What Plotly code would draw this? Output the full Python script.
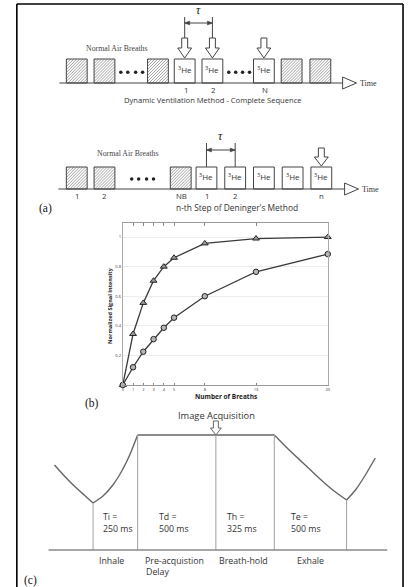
import numpy as np
import plotly.graph_objects as go

# ---------------- data: panel (b) ----------------
breaths = [0, 1, 2, 3, 4, 5, 8, 13, 20]
signal_triangle = [0, 0.345, 0.555, 0.705, 0.80, 0.86, 0.957, 0.99, 1.0]
signal_circle = [0, 0.12, 0.225, 0.31, 0.387, 0.455, 0.60, 0.765, 0.885]
y_tick_vals = [0.2, 0.4, 0.6, 0.8, 1.0]
y_tick_text = ["0.2", "0.4", "0.6", "0.8", "1"]
x_tick_text = ["0", "1", "2", "3", "4", "5", "8", "13", "20"]

# ---------------- schematic (a) ----------------
row1_box_left = [66, 94, 148, 175, 203, 255, 283, 312]
row1_box_kind = ["air", "air", "air", "he", "he", "he", "air", "air"]
row1_dots = [121, 128, 136, 143, 230, 237, 244, 251]
row1_arrow_boxes = [3, 4, 5]
row1_labels = ["1", "2", "N"]

row2_box_left = [66, 94, 171, 197, 226, 255, 284, 313]
row2_box_kind = ["air", "air", "air", "he", "he", "he", "he", "he"]
row2_dots = [132, 139, 147, 154]
row2_label_boxes = [0, 1, 2, 3, 4, 7]
row2_labels = ["1", "2", "NB", "1", "2", "n"]
row2_arrow_boxes = [7]

# ---------------- schematic (c) ----------------
curve_segments_x = [[54, 64, 74, 84, 93],
                    [93, 103, 113, 122, 130, 138],
                    [276, 290, 305, 320, 335, 349],
                    [349, 358, 368, 378]]
curve_segments_y = [[465, 476, 486, 495, 503],
                    [503, 496, 485, 471, 455, 435],
                    [435, 449, 463, 477, 490, 500],
                    [500, 490, 475, 458]]
phase_x = [93, 138, 217, 276, 349]
phase_top = [503, 435, 435, 435, 500]
phase_names = ["Ti =", "Td =", "Th =", "Te ="]
phase_ms = ["250 ms", "500 ms", "325 ms", "500 ms"]
phase_text_x = [101, 158, 226, 291]

W, H = 408, 587
LINE = "#444444"
SANS = "Open Sans, Noto Sans, sans-serif"
SERIF = "Liberation Serif, Times New Roman, serif"

fig = go.Figure()
shapes = []
annotations = []


def hatch(x0, y0, x1, y1, step=3.0):
    xs, ys = [], []
    c = x0 + y0 + step / 2
    while c < x1 + y1:
        xa = max(x0, c - y1)
        xb = min(x1, c - y0)
        if xb > xa:
            xs += [xa, xb, None]
            ys += [c - xa, c - xb, None]
        c += step
    return xs, ys


def hollow_arrow(cx, top, hb, tip, sw, hw, color=LINE):
    path = (f"M{cx-sw},{top} L{cx+sw},{top} L{cx+sw},{hb} L{cx+hw},{hb} "
            f"L{cx},{tip} L{cx-hw},{hb} L{cx-sw},{hb} Z")
    return dict(type="path", path=path, xref="x", yref="y",
                line=dict(color=color, width=1), fillcolor="white")


def txt(x, y, s, size, font=SANS, anchor="center", color="#333333", **kw):
    annotations.append(dict(x=x, y=y, xref="x", yref="y", text=s, showarrow=False,
                            xanchor=anchor, yanchor="middle",
                            font=dict(size=size, family=font, color=color), **kw))


def draw_row(lefts, kinds, top, axis_y, dots, line_x0, line_x1, tri_x1):
    hx, hy = [], []
    for left, kind in zip(lefts, kinds):
        w = 21
        shapes.append(dict(type="rect", xref="x", yref="y", x0=left, x1=left + w,
                           y0=top, y1=axis_y, line=dict(color=LINE, width=1),
                           fillcolor="rgba(0,0,0,0)" if kind == "air" else "white"))
        if kind == "air":
            a, b = hatch(left, top, left + w, axis_y)
            hx += a
            hy += b
        else:
            txt(left + w / 2, top + (axis_y - top) * 0.45, "<sup>3</sup>He", 8)
    fig.add_trace(go.Scatter(x=hx, y=hy, mode="lines", line=dict(color="#8a8a8a", width=0.8),
                             hoverinfo="skip", showlegend=False, xaxis="x", yaxis="y"))
    fig.add_trace(go.Scatter(x=dots, y=[top + (axis_y - top) * 0.55] * len(dots), mode="markers",
                             marker=dict(color="#222", size=3.5), hoverinfo="skip",
                             showlegend=False, xaxis="x", yaxis="y"))
    shapes.append(dict(type="line", xref="x", yref="y", x0=line_x0, x1=line_x1,
                       y0=axis_y, y1=axis_y, line=dict(color=LINE, width=1.2)))
    shapes.append(dict(type="path", xref="x", yref="y",
                       path=f"M{line_x1},{axis_y-6} L{tri_x1},{axis_y} L{line_x1},{axis_y+6} Z",
                       line=dict(color=LINE, width=1), fillcolor="white"))
    txt(tri_x1 + 2, axis_y, "Time", 8, font=SERIF, anchor="left")


def bracket(xa, xb, ytop, ybar, ybot, tau_y):
    for xv in (xa, xb):
        shapes.append(dict(type="line", xref="x", yref="y", x0=xv, x1=xv, y0=ytop, y1=ybot,
                           line=dict(color=LINE, width=1)))
    shapes.append(dict(type="line", xref="x", yref="y", x0=xa, x1=xb, y0=ybar, y1=ybar,
                       line=dict(color=LINE, width=1)))
    shapes.append(dict(type="path", xref="x", yref="y",
                       path=f"M{xa},{ybar} L{xa+5},{ybar-2} L{xa+5},{ybar+2} Z",
                       line=dict(color=LINE, width=0.5), fillcolor=LINE))
    shapes.append(dict(type="path", xref="x", yref="y",
                       path=f"M{xb},{ybar} L{xb-5},{ybar-2} L{xb-5},{ybar+2} Z",
                       line=dict(color=LINE, width=0.5), fillcolor=LINE))
    txt((xa + xb) / 2, tau_y, "<i>τ</i>", 12, font=SERIF, color="#222")


# ----- row 1 -----
r1_top, r1_axis = 59, 83
draw_row(row1_box_left, row1_box_kind, r1_top, r1_axis, row1_dots, 59, 345, 359)
centers1 = [row1_box_left[i] + 10.5 for i in row1_arrow_boxes]
for cx in centers1:
    shapes.append(hollow_arrow(cx, 38, 48, 58, 3, 7))
bracket(centers1[0], centers1[1], 17, 23, 38, 10)
for cx, lab in zip(centers1, row1_labels):
    txt(cx + 1, r1_axis + 6.5, lab, 7.8)
txt(117, 48, "Normal Air Breaths", 7.8, font=SERIF, color="#444")
txt(214, 100, "Dynamic Ventilation Method - Complete Sequence", 7.6)

# ----- row 2 -----
r2_top, r2_axis = 167, 189
draw_row(row2_box_left, row2_box_kind, r2_top, r2_axis, row2_dots, 58, 347, 361)
for i in row2_arrow_boxes:
    cx = row2_box_left[i] + 10.5
    shapes.append(hollow_arrow(cx, 148, 157, 166, 3, 7))
bracket(row2_box_left[3] + 10.5, row2_box_left[4] + 10.5, 143, 150, r2_top, 136)
for i, lab in zip(row2_label_boxes, row2_labels):
    txt(row2_box_left[i] + 11, r2_axis + 6.5, lab, 7.8)
txt(128, 153, "Normal Air Breaths", 7.8, font=SERIF, color="#444")
txt(238, 207, "n-th Step of Deninger's Method", 8.4)
txt(45, 208, "(a)", 11.5, font=SERIF, color="#111")

# ----- panel (b) annotations -----
txt(92, 403, "(b)", 11.5, font=SERIF, color="#111")
txt(227, 396, "<b>Number of Breaths</b>", 6.5, color="#222")
txt(110, 305, "<b>Normalized Signal Intensity</b>", 5.5, color="#222", textangle=-90)

# ----- panel (c) -----
for sx, sy in zip(curve_segments_x, curve_segments_y):
    fig.add_trace(go.Scatter(x=sx, y=sy, mode="lines",
                             line=dict(color="#666", width=1.4, shape="spline", smoothing=0.5),
                             hoverinfo="skip", showlegend=False, xaxis="x", yaxis="y"))
shapes.append(dict(type="line", xref="x", yref="y", x0=138, x1=276, y0=435, y1=435,
                   line=dict(color="#666", width=1.4)))
for xv, yt in zip(phase_x, phase_top):
    shapes.append(dict(type="line", xref="x", yref="y", x0=xv, x1=xv, y0=yt, y1=550,
                       line=dict(color="#a0a0a0", width=1)))
shapes.append(dict(type="line", xref="x", yref="y", x0=48, x1=390, y0=550, y1=550,
                   line=dict(color="#8a8a8a", width=1.4)))
shapes.append(hollow_arrow(217, 421, 428, 435, 2.5, 5.5, color="#666"))
txt(218, 415, "Image Acquisition", 9.3)
for xv, nm, ms in zip(phase_text_x, phase_names, phase_ms):
    txt(xv, 517, nm, 8.8, anchor="left")
    txt(xv, 529, ms, 8.8, anchor="left")
txt(112, 561, "Inhale", 8.8)
txt(143, 561, "Pre-acquistion", 8.8, anchor="left")
txt(144, 572, "Delay", 8.8, anchor="left")
txt(245, 561, "Breath-hold", 8.8)
txt(313, 561, "Exhale", 8.8)
txt(30, 580, "(c)", 11.5, font=SERIF, color="#111")

# ----- outer border -----
for (x0, y0, x1, y1) in [(16, 4, 406, 4), (16, 4, 16, 590), (406, 4, 406, 590)]:
    shapes.append(dict(type="line", xref="x", yref="y", x0=x0, x1=x1, y0=y0, y1=y1,
                       line=dict(color="black", width=1.6)))

# ----- panel (b) chart -----
fig.add_trace(go.Scatter(x=breaths, y=signal_triangle, mode="lines+markers", xaxis="x2", yaxis="y2",
                         line=dict(color="#3a3a3a", width=1.3), cliponaxis=False,
                         marker=dict(symbol="triangle-up", size=6, color="#9a9a9a",
                                     line=dict(color="#222", width=1)),
                         showlegend=False))
fig.add_trace(go.Scatter(x=breaths, y=signal_circle, mode="lines+markers", xaxis="x2", yaxis="y2",
                         line=dict(color="#3a3a3a", width=1.3), cliponaxis=False,
                         marker=dict(symbol="circle", size=5.5, color="#b5b5b5",
                                     line=dict(color="#222", width=1)),
                         showlegend=False))

x_px0, x_px1 = 123, 330
y_px_top, y_px_bot = 223, 385
fig.update_layout(
    width=W, height=H, margin=dict(l=0, r=0, t=0, b=0),
    paper_bgcolor="white", plot_bgcolor="rgba(0,0,0,0)",
    xaxis=dict(domain=[0, 1], range=[0, W], visible=False, fixedrange=True),
    yaxis=dict(domain=[0, 1], range=[H, 0], visible=False, fixedrange=True),
    xaxis2=dict(domain=[x_px0 / W, x_px1 / W], range=[0, 20], anchor="y2",
                tickvals=breaths, ticktext=x_tick_text, ticks="inside", ticklen=2.5,
                tickcolor="#888", mirror="ticks", showline=True, linecolor="#999", linewidth=1,
                showgrid=False, zeroline=False, tickfont=dict(size=4, color="#333", family=SANS)),
    yaxis2=dict(domain=[(H - y_px_bot) / H, (H - y_px_top) / H], range=[0, 1.095], anchor="x2",
                tickvals=y_tick_vals, ticktext=y_tick_text, ticks="", showline=True, mirror=True,
                linecolor="#aaa", linewidth=1, showgrid=True, gridcolor="#ececec", gridwidth=1,
                zeroline=False, tickfont=dict(size=4, color="#333", family=SANS)),
    shapes=shapes, annotations=annotations,
)

fig.write_html("out.html", config={"displayModeBar": False},
               post_script="document.body.style.margin='0';document.body.style.overflow='hidden';")
